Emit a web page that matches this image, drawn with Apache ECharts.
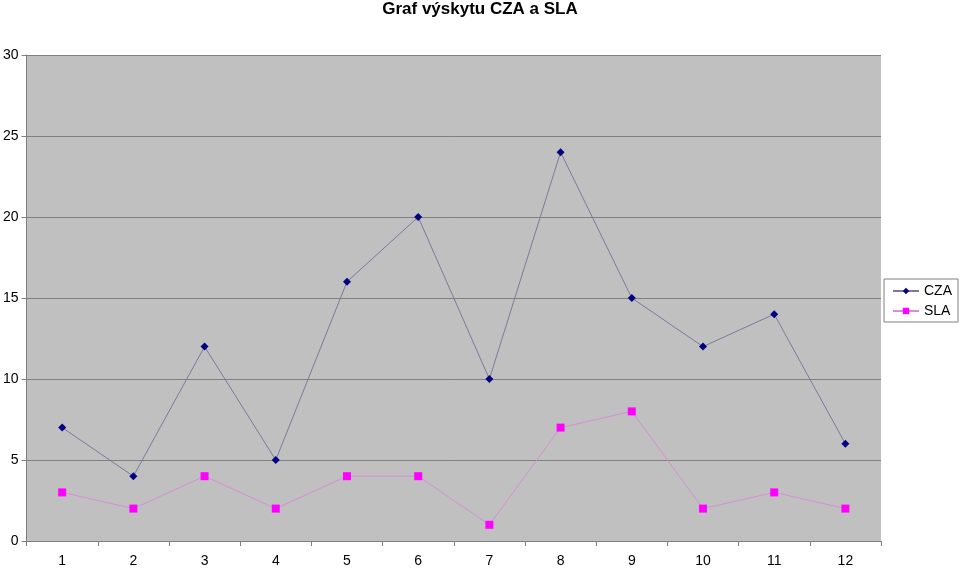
<!DOCTYPE html>
<html><head><meta charset="utf-8">
<script src="https://cdn.jsdelivr.net/npm/echarts@6/dist/echarts.min.js"></script>
<style>html,body{margin:0;padding:0;background:#fff}#c{width:960px;height:568px}</style>
</head><body><div id="c"></div>
<script>
const categories = ['1','2','3','4','5','6','7','8','9','10','11','12'];
const czaValues = [7,4,12,5,16,20,10,24,15,12,14,6];
const slaValues = [3,2,4,2,4,4,1,7,8,2,3,2];
const titleText = 'Graf výskytu CZA a SLA';

const chart = echarts.init(document.getElementById('c'), null, {renderer:'canvas'});
chart.setOption({
  animation:false,
  backgroundColor:'#ffffff',
  title:{text:titleText,left:'center',top:-4,textStyle:{fontFamily:'Liberation Sans, Arial',fontWeight:'bold',fontSize:17,color:'#000'}},
  legend:{
    orient:'vertical',right:2,top:279,
    backgroundColor:'#fff',borderColor:'#808080',borderWidth:1,padding:[5,6,4,8],
    itemWidth:26,itemHeight:8,itemGap:6,
    textStyle:{fontFamily:'Liberation Sans, Arial',fontSize:14,color:'#000'},
    data:['CZA','SLA']
  },
  grid:{left:24,right:79,top:55,bottom:26,show:true,backgroundColor:'#c0c0c0',borderWidth:0},
  xAxis:{type:'category',data:categories,boundaryGap:true,
    axisLine:{lineStyle:{color:'#808080'}},
    axisTick:{show:true,length:5,lineStyle:{color:'#808080'},alignWithLabel:false},
    axisLabel:{fontFamily:'Liberation Sans, Arial',fontSize:14,color:'#000',margin:13}},
  yAxis:{type:'value',min:0,max:30,interval:5,
    axisLine:{show:true,lineStyle:{color:'#808080'}},
    axisTick:{show:true,length:5,lineStyle:{color:'#808080'}},
    splitLine:{lineStyle:{color:'#808080',width:1}},
    axisLabel:{fontFamily:'Liberation Sans, Arial',fontSize:14,color:'#000',margin:8}},
  series:[
    {name:'CZA',type:'line',data:czaValues,symbol:'diamond',symbolSize:8,
     itemStyle:{color:'#000080'},lineStyle:{color:'#7a7a9e',width:1}},
    {name:'SLA',type:'line',data:slaValues,symbol:'rect',symbolSize:8,
     itemStyle:{color:'#ff00ff'},lineStyle:{color:'#d68ed6',width:1}}
  ]
});
</script></body></html>
